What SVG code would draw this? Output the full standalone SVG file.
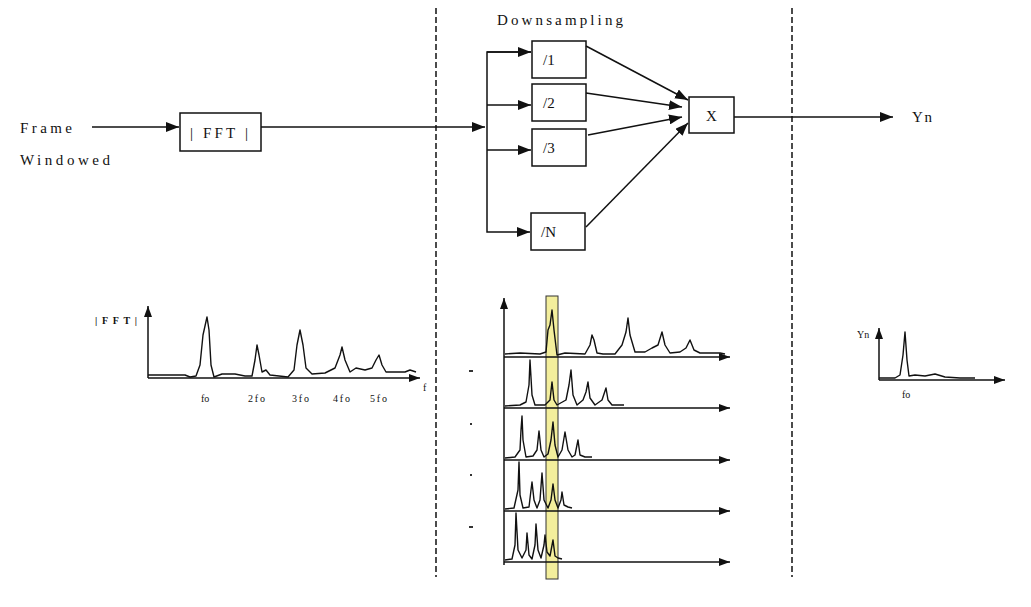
<svg xmlns="http://www.w3.org/2000/svg" width="1031" height="607" viewBox="0 0 1031 607">
<style>
.ln{stroke:#111;stroke-width:1.5;fill:none}
.box{stroke:#111;stroke-width:1.5;fill:#fff}
.dash{stroke:#111;stroke-width:1.5;stroke-dasharray:6,3;fill:none}
.tr{stroke:#111;stroke-width:1.4;fill:none;stroke-linejoin:round}
.t{font-family:"Liberation Serif",serif;font-size:15px;fill:#111}
.s{font-family:"Liberation Serif",serif;font-size:10px;fill:#111}
.sb{font-family:"Liberation Serif",serif;font-size:10px;font-weight:bold;fill:#111}
</style>
<defs>
<marker id="ah" markerUnits="userSpaceOnUse" markerWidth="14" markerHeight="10" refX="13" refY="5" orient="auto">
<path d="M0,0 L13,5 L0,10 Z" fill="#111"/>
</marker>
<marker id="as" markerUnits="userSpaceOnUse" markerWidth="12" markerHeight="10" refX="11" refY="5" orient="auto">
<path d="M0,1 L11,5 L0,9 Z" fill="#111"/>
</marker>
</defs>
<rect width="1031" height="607" fill="#fff"/>

<g id="dividers">
<line class="dash" x1="436" y1="8" x2="436" y2="577"/>
<line class="dash" x1="792" y1="8" x2="792" y2="577"/>
</g>

<g id="input">
<text class="t" x="20" y="133" textLength="52" lengthAdjust="spacing">Frame</text>
<text class="t" x="20" y="165" textLength="90" lengthAdjust="spacing">Windowed</text>
</g>

<g id="fft">
<rect class="box" x="180" y="113" width="81" height="38"/>
<text class="t" x="190" y="138" textLength="58" lengthAdjust="spacing">| FFT |</text>
</g>

<g id="downsampling-label">
<text class="t" x="497" y="25" textLength="126" lengthAdjust="spacing">Downsampling</text>
</g>

<g id="div1">
<rect class="box" x="532" y="41" width="54" height="37"/>
<text class="t" x="543" y="65">/1</text>
</g>
<g id="div2">
<rect class="box" x="532" y="84" width="54" height="37"/>
<text class="t" x="543" y="108">/2</text>
</g>
<g id="div3">
<rect class="box" x="532" y="129" width="54" height="37"/>
<text class="t" x="543" y="153">/3</text>
</g>
<g id="divN">
<rect class="box" x="531" y="213" width="54" height="37"/>
<text class="t" x="541" y="237">/N</text>
</g>

<g id="mult">
<rect class="box" x="689" y="97" width="45" height="36"/>
<text class="t" x="711.5" y="121" text-anchor="middle">X</text>
</g>

<g id="output">
<text class="t" x="912" y="122" textLength="20" lengthAdjust="spacing">Yn</text>
</g>

<g id="connectors">
<line class="ln" x1="92" y1="127" x2="179" y2="127" marker-end="url(#ah)"/>
<line class="ln" x1="261" y1="127" x2="485" y2="127" marker-end="url(#ah)"/>
<polyline class="ln" points="531,52 487,52 487,232 530,232" marker-end="url(#ah)"/>
<line class="ln" x1="487" y1="52" x2="531" y2="52" marker-end="url(#ah)"/>
<line class="ln" x1="487" y1="105" x2="531" y2="105" marker-end="url(#ah)"/>
<line class="ln" x1="487" y1="150" x2="531" y2="150" marker-end="url(#ah)"/>
<line class="ln" x1="586" y1="46" x2="688" y2="100" marker-end="url(#ah)"/>
<line class="ln" x1="586" y1="93" x2="682" y2="107" marker-end="url(#ah)"/>
<line class="ln" x1="588" y1="135" x2="682" y2="117" marker-end="url(#ah)"/>
<line class="ln" x1="586" y1="227" x2="688" y2="123" marker-end="url(#ah)"/>
<line class="ln" x1="734" y1="117" x2="893" y2="117" marker-end="url(#ah)"/>
</g>

<g id="plot-fft">
<line class="ln" x1="148" y1="378" x2="148" y2="306" marker-end="url(#as)"/>
<line class="ln" x1="148" y1="378" x2="420" y2="378" marker-end="url(#as)"/>
<path class="tr" d="M148,375 L185,375 L190,377 L196,376 L200,365 L203,335 L205,326 L207,317 L209,330 L211,365 L214,377 L222,374 L235,374 L245,376 L252,376 L255,360 L257,345 L259,355 L262,372 L266,370 L270,375 L288,377 L294,370 L297,345 L300,330 L303,345 L306,368 L312,374 L325,373 L335,368 L340,355 L342,347 L345,360 L350,372 L356,368 L365,370 L372,368 L376,360 L379,355 L382,365 L386,372 L405,372 L410,370 L416,372"/>
<text class="sb" x="95" y="324" textLength="42" lengthAdjust="spacing">|FFT|</text>
<text class="s" x="423" y="391">f</text>
<text class="s" x="201" y="402">fo</text>
<text class="s" x="248" y="402" textLength="17" lengthAdjust="spacing">2fo</text>
<text class="s" x="292" y="402" textLength="17" lengthAdjust="spacing">3fo</text>
<text class="s" x="333" y="402" textLength="17" lengthAdjust="spacing">4fo</text>
<text class="s" x="370" y="402" textLength="17" lengthAdjust="spacing">5fo</text>
</g>

<g id="plot-downsampled">
<rect x="546" y="296" width="12" height="283" fill="#f3ee9c" stroke="#333" stroke-width="1"/>
<line class="ln" x1="504" y1="565" x2="504" y2="298" marker-end="url(#as)"/>
<line class="ln" x1="504" y1="357" x2="730" y2="357" marker-end="url(#as)"/>
<line class="ln" x1="504" y1="408" x2="730" y2="408" marker-end="url(#as)"/>
<line class="ln" x1="504" y1="460" x2="730" y2="460" marker-end="url(#as)"/>
<line class="ln" x1="504" y1="511" x2="730" y2="511" marker-end="url(#as)"/>
<line class="ln" x1="504" y1="562" x2="730" y2="562" marker-end="url(#as)"/>
<path class="tr" d="M505,354 L520,353 L540,354 L546,352 L548,330 L550,325 L552,310 L554,330 L557,355 L565,353 L585,354 L590,345 L592,335 L594,340 L597,353 L603,354 L615,354 L622,345 L626,332 L628,318 L630,335 L635,352 L645,352 L652,348 L658,345 L662,332 L665,345 L670,353 L680,352 L686,348 L690,340 L694,350 L700,353 L720,353 L725,354"/>
<path class="tr" d="M505,406 L520,405 L526,402 L529,385 L530,360 L532,395 L535,405 L545,405 L550,400 L552,382 L554,400 L557,405 L566,400 L569,385 L571,370 L573,395 L577,405 L583,400 L586,392 L588,382 L590,398 L595,405 L602,400 L606,388 L608,400 L612,405 L624,405"/>
<path class="tr" d="M505,458 L515,457 L520,450 L521,430 L522,416 L523,440 L526,457 L533,456 L537,450 L539,431 L541,450 L544,457 L548,454 L551,440 L553,422 L555,445 L558,457 L562,450 L565,432 L568,450 L572,457 L575,455 L578,440 L580,455 L585,457 L592,457"/>
<path class="tr" d="M505,509 L514,508 L518,490 L519,462 L520,495 L523,508 L529,507 L531,490 L532,482 L534,500 L537,508 L540,500 L542,473 L544,500 L548,508 L551,500 L553,484 L555,500 L558,508 L561,500 L562,492 L564,505 L568,507 L572,508"/>
<path class="tr" d="M505,560 L512,559 L515,545 L516,513 L518,550 L522,558 L526,550 L527,533 L529,555 L532,559 L535,545 L536,524 L538,550 L541,558 L544,545 L545,535 L547,552 L550,556 L553,540 L555,556 L558,558 L562,559"/>
<g fill="#333">
<rect x="469" y="370" width="4" height="2"/>
<rect x="470" y="423" width="2" height="2"/>
<rect x="470" y="474" width="2" height="2"/>
<rect x="469" y="526" width="4" height="2"/>
</g>
</g>

<g id="plot-output">
<line class="ln" x1="879" y1="380" x2="879" y2="328" marker-end="url(#as)"/>
<line class="ln" x1="879" y1="380" x2="1005" y2="380" marker-end="url(#as)"/>
<path class="tr" d="M879,378 L895,378 L900,375 L903,355 L905,332 L907,360 L909,376 L915,375 L925,376 L935,374 L945,377 L960,378 L975,378"/>
<text class="s" x="857" y="338">Yn</text>
<text class="s" x="902" y="398">fo</text>
</g>
</svg>
